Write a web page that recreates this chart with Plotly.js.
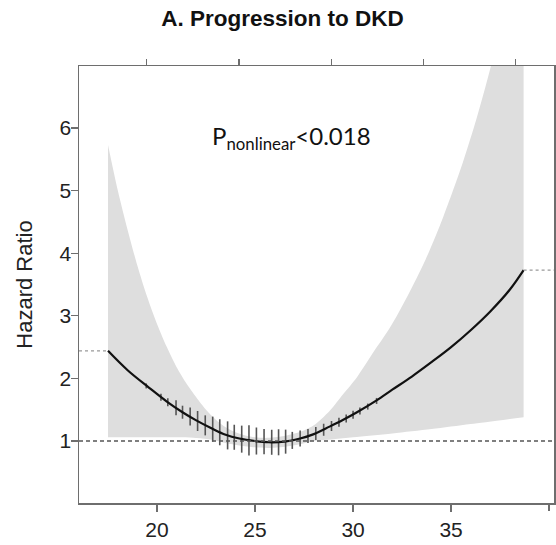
<!DOCTYPE html>
<html>
<head>
<meta charset="utf-8">
<script src="https://cdn.plot.ly/plotly-3.0.1.min.js"></script>
<style>html,body{margin:0;padding:0;background:#fff;}#chart{width:556px;height:545px;}</style>
</head>
<body>
<div id="chart"></div>
<script>
// ---- data ----
const bmi = [17.5, 18.5, 19.6, 20.5, 21.3, 22.0, 22.8, 23.5, 24.2, 25.0, 25.7, 26.5, 27.3, 28.0, 28.8, 29.5, 30.2, 31.2, 32.0, 33.0, 34.0, 35.0, 36.0, 37.0, 38.0, 38.7];
const hr = [2.44, 2.13, 1.85, 1.63, 1.46, 1.33, 1.20, 1.10, 1.04, 1.00, 0.98, 0.99, 1.04, 1.11, 1.23, 1.34, 1.46, 1.65, 1.82, 2.03, 2.26, 2.50, 2.77, 3.07, 3.42, 3.73];

const upperX = [17.5, 18.0, 18.5, 19.0, 19.5, 20.0, 20.5, 21.0, 21.5, 22.0, 22.5, 23.0, 23.5, 24.0, 24.5, 25.0, 25.5, 26.0, 26.5, 27.0, 27.5, 28.0, 28.8, 29.5, 30.2, 31.0, 31.9, 32.8, 33.7, 34.6, 35.6, 36.3, 37.0, 37.8, 38.7];
const upperHR = [5.73, 5.00, 4.37, 3.80, 3.30, 2.87, 2.50, 2.18, 1.92, 1.70, 1.50, 1.34, 1.22, 1.14, 1.09, 1.06, 1.05, 1.06, 1.08, 1.12, 1.17, 1.25, 1.48, 1.75, 2.02, 2.40, 2.82, 3.33, 3.90, 4.58, 5.45, 6.15, 6.95, 8.0, 9.3];
const lowerX = [17.5, 19.0, 20.5, 22.0, 22.8, 23.5, 24.2, 25.0, 25.7, 26.5, 27.3, 28.0, 29.0, 30.0, 32.0, 34.0, 36.0, 38.7];
const lowerHR = [1.06, 1.06, 1.06, 1.05, 1.02, 0.97, 0.93, 0.90, 0.89, 0.91, 0.95, 1.00, 1.03, 1.06, 1.12, 1.19, 1.27, 1.38];

const rugX = [19.45, 20.2, 20.55, 20.97, 21.3, 21.69, 22.07, 22.46, 22.84, 23.2, 23.6, 23.94, 24.32, 24.69, 25.07, 25.46, 25.85, 26.2, 26.56, 26.9, 27.3, 27.7, 28.1, 28.5, 28.9, 29.28, 29.65, 30.0, 30.35, 30.75, 31.2];
const rugHR = [1.88, 1.70, 1.62, 1.53, 1.46, 1.39, 1.32, 1.25, 1.19, 1.14, 1.09, 1.06, 1.03, 1.01, 1.00, 0.99, 0.98, 0.98, 0.99, 1.01, 1.04, 1.08, 1.12, 1.18, 1.24, 1.30, 1.36, 1.42, 1.48, 1.55, 1.64];
const rugHalf = [0.04, 0.056, 0.064, 0.12, 0.104, 0.144, 0.16, 0.16, 0.2, 0.208, 0.224, 0.2, 0.216, 0.24, 0.216, 0.2, 0.2, 0.208, 0.192, 0.136, 0.128, 0.112, 0.104, 0.096, 0.08, 0.072, 0.064, 0.064, 0.056, 0.048, 0.048];

const xTickVals = [20, 25, 30, 35];
const xExtraTick = [40];
const topTickVals = [19.45, 24.18, 28.89, 33.6, 38.3];
const yTickVals = [1, 2, 3, 4, 5, 6];
const refHR = 1;
const xRange = [16.02, 40.25];
const yRange = [0.01, 6.99];

const titleText = "A. Progression to DKD";
const yTitle = "Hazard Ratio";
const pText = "P<sub>nonlinear</sub><0.018";

// ---- traces ----
const axisColor = "#6e6e6e";
const bandColor = "#dedede";
const traces = [
  {x: lowerX, y: lowerHR, type: "scatter", mode: "lines",
   line: {width: 0, color: "rgba(0,0,0,0)", shape: "spline", smoothing: 0.8}, hoverinfo: "skip"},
  {x: upperX, y: upperHR, type: "scatter", mode: "lines", fill: "tonexty", fillcolor: bandColor,
   line: {width: 0, color: "rgba(0,0,0,0)", shape: "spline", smoothing: 0.8}, hoverinfo: "skip"},
  {x: [xRange[0], bmi[0]], y: [hr[0], hr[0]], type: "scatter", mode: "lines", xaxis: "x2",
   line: {color: "#999", width: 1.2, dash: "dot"}},
  {x: [bmi[bmi.length - 1], xRange[1]], y: [hr[hr.length - 1], hr[hr.length - 1]], type: "scatter", mode: "lines",
   xaxis: "x3", line: {color: "#999", width: 1.2, dash: "dot"}},
  {x: rugX, y: rugHR, type: "scatter", mode: "markers",
   marker: {size: 1, color: "rgba(0,0,0,0)"},
   error_y: {type: "data", array: rugHalf, visible: true, width: 0, thickness: 1.6, color: "#555"}},
  {x: bmi, y: hr, type: "scatter", mode: "lines",
   line: {color: "#111", width: 2.2, shape: "spline", smoothing: 1}}
];

const fontFam = "Liberation Sans, Arial, sans-serif";
const layout = {
  width: 556, height: 545,
  margin: {l: 79, r: 2, t: 66, b: 42},
  paper_bgcolor: "#fff", plot_bgcolor: "#fff",
  showlegend: false,
  title: {text: "<b>" + titleText + "</b>", font: {family: fontFam, size: 22.5, color: "#111"},
          xref: "container", x: 0.508, xanchor: "center", yref: "container", y: 0.966, yanchor: "middle"},
  xaxis: {range: xRange, tickvals: xTickVals, ticks: "outside", ticklen: 7,
          tickcolor: axisColor, tickwidth: 1.2, showline: true, linecolor: axisColor, linewidth: 1.5,
          showgrid: false, zeroline: false, tickfont: {family: fontFam, size: 21, color: "#222"}},
  xaxis2: {range: xRange, overlaying: "x", side: "top", tickvals: topTickVals, showticklabels: false,
           ticks: "outside", ticklen: 6, tickcolor: axisColor, tickwidth: 1.2, showline: true,
           linecolor: axisColor, linewidth: 1.5, showgrid: false, zeroline: false},
  xaxis3: {range: xRange, overlaying: "x", side: "bottom", tickvals: xExtraTick, showticklabels: false,
           ticks: "outside", ticklen: 7, tickcolor: axisColor, tickwidth: 1.2, showline: false,
           showgrid: false, zeroline: false},
  yaxis: {range: yRange, tickvals: yTickVals, ticks: "outside", ticklen: 7, tickcolor: axisColor,
          tickwidth: 1.2, showline: true, mirror: "ticks", linecolor: axisColor, linewidth: 1.5,
          showgrid: false, zeroline: false, ticklabelstandoff: -5,
          tickfont: {family: fontFam, size: 21, color: "#222"},
          title: {text: yTitle, font: {family: fontFam, size: 22, color: "#222"}, standoff: 21}},
  shapes: [
    {type: "line", xref: "paper", x0: 0, x1: 1, yref: "y", y0: refHR, y1: refHR, layer: "above",
     line: {color: "#555", width: 1.3, dash: "4px,3px"}}
  ],
  annotations: [
    {text: pText, xref: "paper", yref: "paper", x: 0.448, y: 0.8375, xanchor: "center", yanchor: "middle",
     showarrow: false, font: {family: "Lato, Carlito, sans-serif", size: 24, color: "#111"}}
  ]
};

Plotly.newPlot("chart", traces, layout, {displayModeBar: false, staticPlot: true});
</script>
</body>
</html>
